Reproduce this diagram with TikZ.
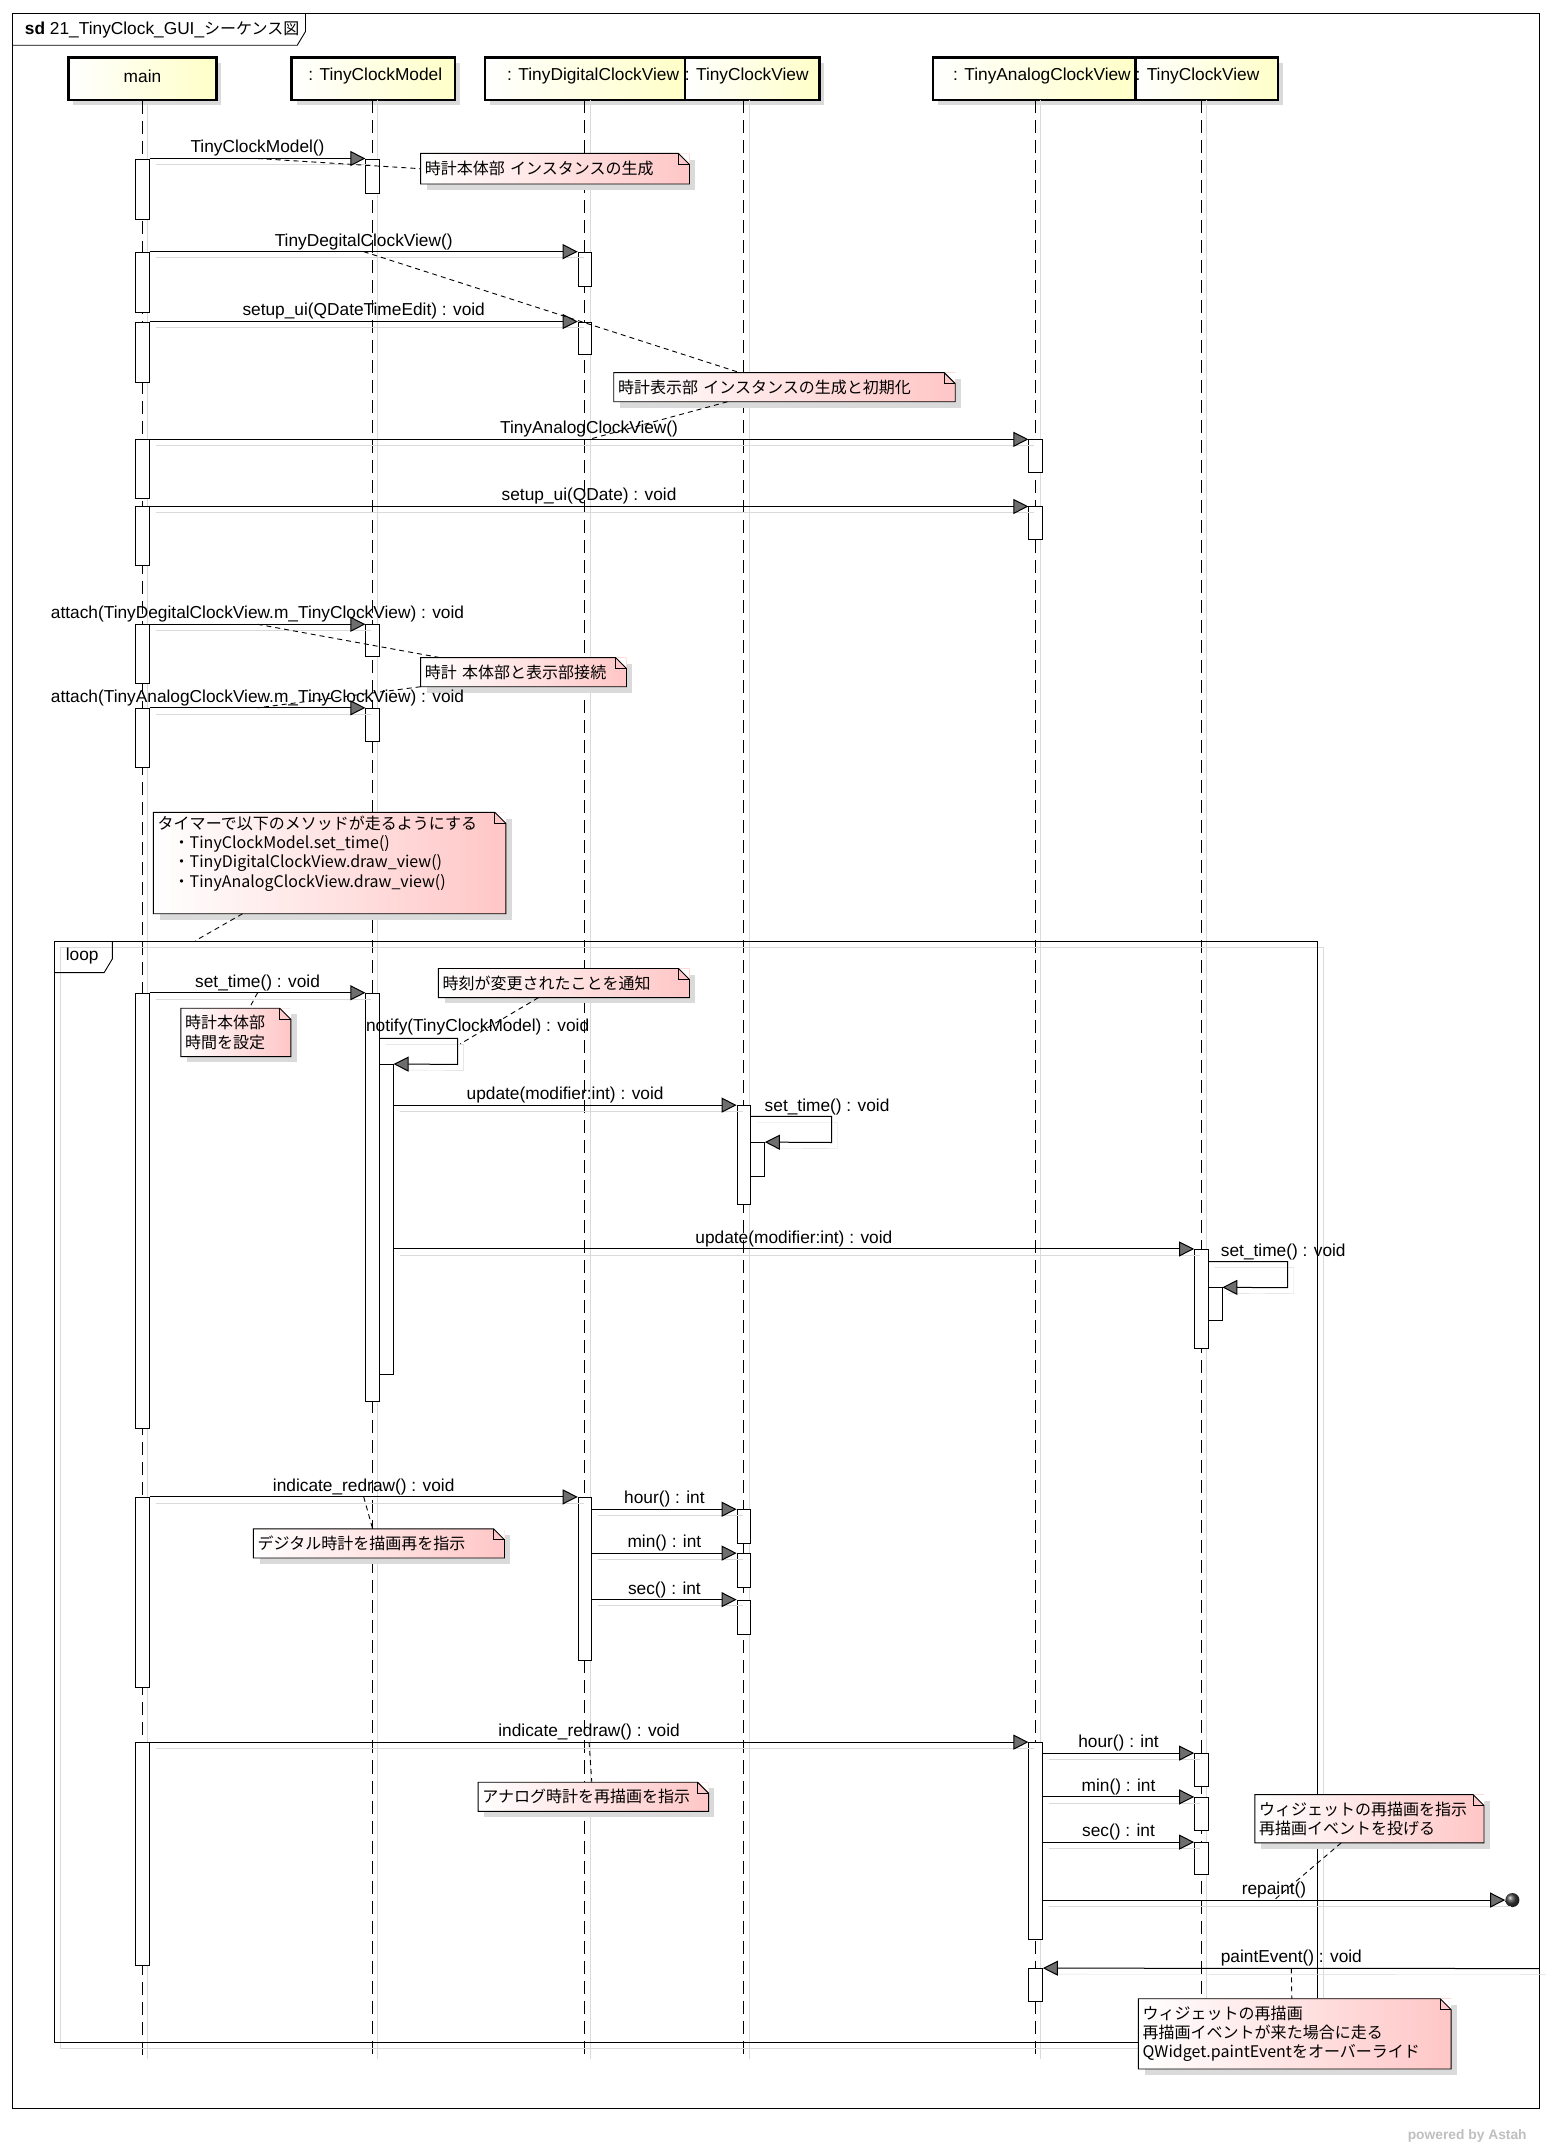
\documentclass[tikz,border=0pt]{standalone}
\usepackage{fontspec}
\setmainfont{Liberation Sans}
\newfontfamily\jp{Noto Sans CJK JP}
\usetikzlibrary{arrows.meta, positioning, calc, fit, shadows}
\definecolor{headyel}{HTML}{FFFFC8}
\definecolor{notepink}{HTML}{FFC6C6}
\definecolor{shadowgray}{HTML}{DADADA}
\definecolor{tipgray}{HTML}{6E6E6E}
\newdimen\px \px=1.3695pt
\newcommand{\lblfont}{\fontsize{17.3}{20}\selectfont}
\newcommand{\notefont}{\jp\fontsize{16}{19.2}\selectfont}

% outline of a note with its folded corner
\newcommand{\notefold}[1]{%
  \fill[white] ([xshift=-11pt]#1.north east) -- (#1.north east) -- ([yshift=-11pt]#1.north east) -- cycle;
  \draw[line width=0.9pt] (#1.north west) -- ([xshift=-11pt]#1.north east) -- ([yshift=-11pt]#1.north east)
    -- (#1.south east) -- (#1.south west) -- cycle;
  \draw[line width=0.9pt] ([xshift=-11pt]#1.north east) -- ([xshift=-11pt,yshift=-11pt]#1.north east)
    -- ([yshift=-11pt]#1.north east);
}

\tikzset{
  frame/.style={draw, line width=0.9pt, inner sep=0pt},
  loopframe/.style={frame, preaction={draw=shadowgray, transform canvas={shift={(6pt,-6pt)}}}},
  head/.style={draw, line width=2.6pt, inner sep=0pt,
    left color=white, right color=headyel,
    drop shadow={shadow xshift=5pt, shadow yshift=-5pt, fill=shadowgray, opacity=1}},
  headtxt/.style={font=\lblfont, inner sep=0pt},
  lifeline/.style={line width=1pt, dash pattern=on 13pt off 7pt,
    preaction={draw=shadowgray, solid, transform canvas={xshift=5pt}}},
  act/.style={draw, fill=white, line width=0.8pt, inner sep=0pt},
  msg/.style={line width=1pt, -{Triangle[length=15pt, width=15pt, fill=tipgray]},
    preaction={draw=shadowgray, arrows=-, transform canvas={shift={(6pt,-6pt)}}}},
  lbl/.style={font=\lblfont, inner sep=1.5pt},
  note/.style={anchor=north west, align=left, font=\notefont, inner xsep=3*\px, inner ysep=2pt,
    left color=white, right color=notepink,
    drop shadow={shadow xshift=6pt, shadow yshift=-6pt, fill=shadowgray, opacity=1}},
  link/.style={line width=0.9pt, dash pattern=on 5pt off 4pt},
  lostend/.style={circle, inner sep=0pt, minimum size=14pt, ball color=black!75},
}

\begin{document}
\begin{tikzpicture}[x=1.3695pt, y=-1.3695pt]
  \useasboundingbox (0,0) rectangle (1134,1568);

  % === Diagram frame ===
  \draw[frame] (9,10) rectangle (1124,1539);
  \draw[frame] (223,10) -- (223,23) -- (217,33) -- (9,33);
  \node[lbl, anchor=west] (title) at (17,22) {\textbf{sd} 21\_TinyClock\_GUI\_{\notefont シーケンス図}};

  % === Lifeline heads ===
  \node[head, fit={(50,42)(158,73)}] (main) {};
  \node[head, fit={(213,42)(332,73)}] (model) {};
  \node[head, fit={(354,42)(500,73)}] (digital) {};
  \node[head, fit={(500,42)(598,73)}] (dview) {};
  \node[head, fit={(681,42)(829,73)}] (analog) {};
  \node[head, fit={(829,42)(933,73)}] (aview) {};
  \node[headtxt] (mainlbl) at ([yshift=2.5pt]main.center) {main};
  \node[headtxt] (modellbl) at ([xshift=2pt, yshift=2.5pt]model.center) {: TinyClockModel};
  \node[headtxt, anchor=east] (digitallbl) at ([xshift=-7pt, yshift=2.5pt]digital.east) {: TinyDigitalClockView};
  \node[headtxt, anchor=west] (dviewlbl) at ([xshift=1pt, yshift=2.5pt]dview.west) {: TinyClockView};
  \node[headtxt, anchor=east] (analoglbl) at ([xshift=-6pt, yshift=2.5pt]analog.east) {: TinyAnalogClockView};
  \node[headtxt, anchor=west] (aviewlbl) at ([xshift=1pt, yshift=2.5pt]aview.west) {: TinyClockView};

  % === Lifelines ===
  \draw[lifeline] (main.south) -- (104,1503);
  \draw[lifeline] (272,73) -- (272,1503);
  \draw[lifeline] (427,73) -- (427,1503);
  \draw[lifeline] (543,73) -- (543,1503);
  \draw[lifeline] (756,73) -- (756,1503);
  \draw[lifeline] (877,73) -- (877,1503);

  % === Loop fragment ===
  \node[loopframe, fit={(40,687)(962,1491)}] (loop) {};
  \draw[frame] (82,687) -- (82,700) -- (76,710) -- (40,710);
  \node[lbl] (looplbl) at (60,698) {loop};

  % === Notes ===
  \node[note, text width=190*\px, minimum height=22*\px] (n1) at (307,112) {時計本体部 インスタンスの生成};
  \notefold{n1}
  \node[note, text width=243*\px, minimum height=21*\px] (n2) at (448,272) {時計表示部 インスタンスの生成と初期化};
  \notefold{n2}
  \node[note, text width=144*\px, minimum height=21*\px] (n3) at (307,480) {時計 本体部と表示部接続};
  \notefold{n3}
  \node[note, text width=251*\px, text height=15pt, text depth=82pt] (n4) at (112,593)
    {タイマーで以下のメソッドが走るようにする\\
     　・TinyClockModel.set\_time()\\
     　・TinyDigitalClockView.draw\_view()\\
     　・TinyAnalogClockView.draw\_view()};
  \notefold{n4}
  \node[note, text width=74*\px, minimum height=35*\px] (n5) at (132,736) {時計本体部\\時間を設定};
  \notefold{n5}
  \node[note, text width=177*\px, minimum height=21*\px] (n6) at (320,707) {時刻が変更されたことを通知};
  \notefold{n6}
  \node[note, text width=177*\px, minimum height=21*\px] (n7) at (185,1116) {デジタル時計を描画再を指示};
  \notefold{n7}
  \node[note, text width=162*\px, minimum height=21*\px] (n8) at (349,1301) {アナログ時計を再描画を指示};
  \notefold{n8}
  \node[note, text width=161*\px, minimum height=35*\px] (n9) at (916,1310)
    {ウィジェットの再描画を指示\\再描画イベントを投げる};
  \notefold{n9}
  \node[note, text width=222*\px, minimum height=51*\px] (n10) at (831,1459)
    {ウィジェットの再描画\\再描画イベントが来た場合に走る\\QWidget.paintEventをオーバーライド};
  \notefold{n10}

  % === Activations ===
  \node[act, fit={(99,116)(109,160)}] (m1) {};
  \node[act, fit={(99,184)(109,228)}] (m2) {};
  \node[act, fit={(99,235)(109,279)}] (m3) {};
  \node[act, fit={(99,321)(109,364)}] (m4) {};
  \node[act, fit={(99,370)(109,413)}] (m5) {};
  \node[act, fit={(99,456)(109,499)}] (m6) {};
  \node[act, fit={(99,517)(109,560)}] (m7) {};
  \node[act, fit={(99,725)(109,1043)}] (m8) {};
  \node[act, fit={(99,1093)(109,1232)}] (m9) {};
  \node[act, fit={(99,1272)(109,1435)}] (m10) {};
  \node[act, fit={(267,116)(277,141)}] (t1) {};
  \node[act, fit={(267,456)(277,479)}] (t2) {};
  \node[act, fit={(267,517)(277,541)}] (t3) {};
  \node[act, fit={(267,725)(277,1023)}] (t4) {};
  \node[act, fit={(277,777)(287,1003)}] (t5) {};
  \node[act, fit={(422,184)(432,209)}] (d1) {};
  \node[act, fit={(422,235)(432,259)}] (d2) {};
  \node[act, fit={(422,1093)(432,1212)}] (d3) {};
  \node[act, fit={(538,807)(548,879)}] (c1) {};
  \node[act, fit={(548,834)(558,859)}] (c1n) {};
  \node[act, fit={(538,1102)(548,1127)}] (c2) {};
  \node[act, fit={(538,1134)(548,1159)}] (c3) {};
  \node[act, fit={(538,1168)(548,1193)}] (c4) {};
  \node[act, fit={(751,321)(761,345)}] (a1) {};
  \node[act, fit={(751,370)(761,394)}] (a2) {};
  \node[act, fit={(751,1272)(761,1416)}] (a3) {};
  \node[act, fit={(751,1437)(761,1461)}] (a4) {};
  \node[act, fit={(872,912)(882,984)}] (v1) {};
  \node[act, fit={(882,940)(892,964)}] (v1n) {};
  \node[act, fit={(872,1280)(882,1304)}] (v2) {};
  \node[act, fit={(872,1312)(882,1336)}] (v3) {};
  \node[act, fit={(872,1345)(882,1368)}] (v4) {};

  % === Messages before the loop ===
  \draw[msg] (m1.north east) -- node[lbl, above] (lmodel) {TinyClockModel()} (t1.north west);
  \draw[msg] (m2.north east) -- node[lbl, above] (ldigital) {TinyDegitalClockView()} (d1.north west);
  \draw[msg] (m3.north east) -- node[lbl, above] (lsetupd) {setup\_ui(QDateTimeEdit) : void} (d2.north west);
  \draw[msg] (m4.north east) -- node[lbl, above] (lanalog) {TinyAnalogClockView()} (a1.north west);
  \draw[msg] (m5.north east) -- node[lbl, above] (lsetupa) {setup\_ui(QDate) : void} (a2.north west);
  \draw[msg] (m6.north east) -- node[lbl, above] (lattachd) {attach(TinyDegitalClockView.m\_TinyClockView) : void} (t2.north west);
  \draw[msg] (m7.north east) -- node[lbl, above] (lattacha) {attach(TinyAnalogClockView.m\_TinyClockView) : void} (t3.north west);

  % === Messages in the loop ===
  \draw[msg] (m8.north east) -- node[lbl, above] (lsettime) {set\_time() : void} (t4.north west);
  \draw[msg] (t4.east |- 0,758) -- (334,758) -- (334,777) -- (t5.north east);
  \node[lbl, anchor=south west] (lnotify) at (266,757) {notify(TinyClockModel) : void};
  \coordinate (nfy) at (336,762);
  \draw[msg] (t5.east |- c1.north) -- node[lbl, above] (lupdated) {update(modifier:int) : void} (c1.north west);
  \draw[msg] (c1.east |- 0,815) -- (607,815) -- (607,834) -- (c1n.north east);
  \node[lbl, anchor=south west] (lsettimed) at (557,815) {set\_time() : void};
  \draw[msg] (t5.east |- v1.north) -- node[lbl, above] (lupdatea) {update(modifier:int) : void} (v1.north west);
  \draw[msg] (v1.east |- 0,921) -- (940,921) -- (940,940) -- (v1n.north east);
  \node[lbl, anchor=south west] (lsettimea) at (890,921) {set\_time() : void};

  \draw[msg] (m9.north east) -- node[lbl, above] (lredrawd) {indicate\_redraw() : void} (d3.north west);
  \draw[msg] (d3.east |- c2.north) -- node[lbl, above] (lhourd) {hour() : int} (c2.north west);
  \draw[msg] (d3.east |- c3.north) -- node[lbl, above] (lmind) {min() : int} (c3.north west);
  \draw[msg] (d3.east |- c4.north) -- node[lbl, above] (lsecd) {sec() : int} (c4.north west);

  \draw[msg] (m10.north east) -- node[lbl, above] (lredrawa) {indicate\_redraw() : void} (a3.north west);
  \draw[msg] (a3.east |- v2.north) -- node[lbl, above] (lhoura) {hour() : int} (v2.north west);
  \draw[msg] (a3.east |- v3.north) -- node[lbl, above] (lmina) {min() : int} (v3.north west);
  \draw[msg] (a3.east |- v4.north) -- node[lbl, above] (lseca) {sec() : int} (v4.north west);

  \node[lostend] (lost) at (1104,1387) {};
  \draw[msg] (a3.east |- lost) -- node[lbl, above] (lrepaint) {repaint()} (lost.west);
  \coordinate (found) at (1124,1437);
  \draw[msg] (found) -- node[lbl, above] (lpaint) {paintEvent() : void} (a4.north east);

  % === Note links ===
  \draw[link] (lmodel.south) -- (n1.west);
  \draw[link] (ldigital.south) -- ([xshift=92*\px]n2.north west);
  \draw[link] ([xshift=83*\px]n2.south west) -- (lanalog.south);
  \draw[link] (lattachd.south) -- ([xshift=14*\px]n3.north west);
  \draw[link] (n3.south west) -- (lattacha.south);
  \draw[link] ([xshift=65*\px]n4.south west) -- ([xshift=103*\px]loop.north west);
  \draw[link] (lsettime.south) -- ([xshift=50*\px]n5.north west);
  \draw[link] ([xshift=73*\px]n6.south west) -- (nfy);
  \draw[link] (lredrawd.south) -- ([xshift=87*\px]n7.north west);
  \draw[link] (lredrawa.south) -- ([xshift=83*\px]n8.north west);
  \draw[link] ([xshift=63*\px]n9.south west) -- (lrepaint.south);
  \draw[link] (lpaint.south) -- ([xshift=112*\px]n10.north west);

  % === Footer ===
  \node[anchor=east, text=black!25, font=\bfseries\fontsize{13.8}{16}\selectfont] (astah) at (1117,1559) {powered by Astah};

\end{tikzpicture}
\end{document}
